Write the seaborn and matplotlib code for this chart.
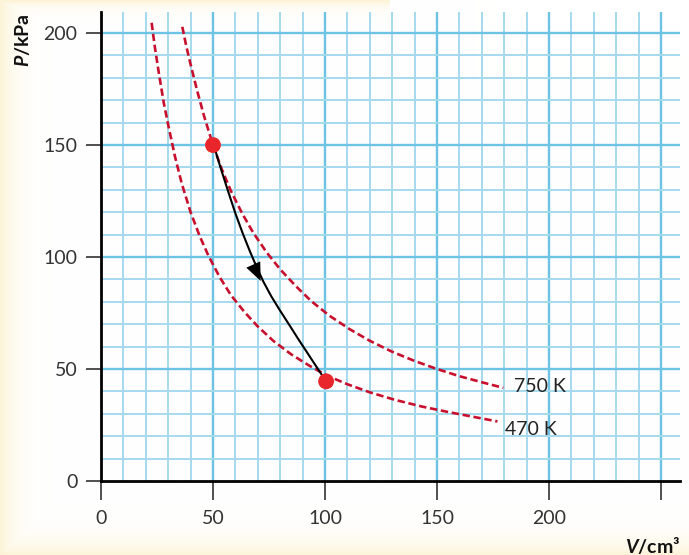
import numpy as np
import matplotlib
matplotlib.use("Agg")
import matplotlib.pyplot as plt
import seaborn as sns

# isotherm 750 K
v_750 = [36.3, 38, 40, 43, 46, 50, 54, 58, 63, 68, 74, 80, 87, 94, 102, 111, 120, 130, 140, 150, 160, 170, 179.6]
p_750 = [202.8, 194.5, 186, 174, 163, 150, 139, 129.5, 119.5, 110.8, 102, 94.5, 87, 80.2, 73.8, 67.8, 62.6, 57.7,
         53.6, 50, 46.8, 44.1, 41.6]

# isotherm 470 K
v_470 = [22.6, 24, 26, 28, 30, 33, 36, 40, 44, 48, 53, 58, 64, 70, 77, 85, 93, 101, 110, 120, 131, 143, 155, 167, 177]
p_470 = [204.6, 194, 181, 169, 159, 145, 133, 120, 109.5, 100.5, 91, 83, 75.5, 69, 62.5, 56.5, 51.5, 47, 43.2,
         39.6, 36.3, 33.3, 30.8, 28.5, 26.6]

# black process curve
v_proc = [50.3, 53.5, 56.7, 60, 63.3, 66.5, 69.5, 72.5, 76, 80, 84, 88, 92, 96, 100.5]
p_proc = [150, 139.5, 129.5, 119.5, 110.5, 102.5, 95.5, 89, 82.5, 76, 69.8, 63.5, 57.4, 51.3, 44.5]

# state points
v_pts = [50, 100.5]
p_pts = [150, 44.5]

labels = ["750 K", "470 K"]
label_pos = [(184.5, 42.4), (180.5, 23.2)]

x_ticks = [0, 50, 100, 150, 200, 250]
x_ticklabels = ["0", "50", "100", "150", "200", ""]
y_ticks = [0, 50, 100, 150, 200]

sns.set_style("white")
plt.rcParams["font.family"] = ["Lato", "DejaVu Sans"]
plt.rcParams["mathtext.fontset"] = "custom"
plt.rcParams["mathtext.bfit"] = "Lato:bold:italic"
plt.rcParams["mathtext.it"] = "Lato:italic"
plt.rcParams["mathtext.rm"] = "Lato"

W, H = 689, 555
fig = plt.figure(figsize=(W / 100, H / 100), dpi=100)

# cream vignette along the edges
bg = fig.add_axes([0, 0, 1, 1])
yy, xx = np.mgrid[0:H, 0:W]
a = np.maximum(np.exp(-xx / 14.0), np.exp(-(H - yy) / 14.0))
a = np.maximum(a, np.exp(-yy / 6.0) * (xx < 390))
img = np.ones((H, W, 3))
cream = np.array([252, 243, 214]) / 255
img = img * (1 - a[..., None]) + cream * a[..., None]
bg.imshow(img, aspect="auto", extent=[0, 1, 0, 1])
bg.axis("off")

ax = fig.add_axes([101 / W, (H - 481) / H, (680 - 101) / W, (481 - 12) / H])
ax.set_facecolor("none")
ax.set_xlim(0, 258.5)
ax.set_ylim(0, 209.4)

# grid
for v in range(10, 259, 10):
    major = v % 50 == 0
    ax.axvline(v, color="#6cc3e4" if major else "#a6d9ed", lw=1.7 if major else 1.4, zorder=0)
for p in range(10, 210, 10):
    major = p % 50 == 0
    ax.axhline(p, color="#6cc3e4" if major else "#a6d9ed", lw=1.7 if major else 1.4, zorder=0)

red = "#c8102e"
sns.lineplot(x=v_750, y=p_750, sort=False, color=red, lw=1.9, ax=ax, zorder=3)
sns.lineplot(x=v_470, y=p_470, sort=False, color=red, lw=1.9, ax=ax, zorder=3)
for ln in ax.lines[-2:]:
    ln.set_dashes((2.8, 1.4))
sns.lineplot(x=v_proc, y=p_proc, sort=False, color="black", lw=1.5, ax=ax, zorder=4)
sns.scatterplot(x=v_pts, y=p_pts, color="#e8262b", s=130, edgecolor="none", ax=ax, zorder=5)

ax.annotate("", xy=(71.3, 89.3), xytext=(68.5, 95.5),
            arrowprops=dict(arrowstyle="-|>,head_length=1.3,head_width=0.55",
                            color="black", lw=0, shrinkA=0, shrinkB=0), zorder=6)

for lab, (lx, ly) in zip(labels, label_pos):
    ax.text(lx, ly, lab, fontsize=14, color="#222222", va="center", ha="left")

ax.set_xticks(x_ticks)
ax.set_xticklabels(x_ticklabels)
ax.set_yticks(y_ticks)
ax.tick_params(axis="both", direction="out", length=11, width=1.2, color="#333333",
               labelsize=14, labelcolor="#333333", pad=6, left=True, bottom=True)
ax.tick_params(axis="x", length=14, pad=7)
for s in ["top", "right"]:
    ax.spines[s].set_visible(False)
for s in ["left", "bottom"]:
    ax.spines[s].set_color("black")
    ax.spines[s].set_linewidth(2)
    ax.spines[s].set_zorder(7)

fig.text(22 / W, 1 - 40 / H, r"$\mathbfit{P}$/kPa", rotation=90, fontsize=14, fontweight="bold",
         ha="center", va="center", color="#111111")
fig.text(680 / W, 1 - 545 / H, r"$\mathbfit{V}$/cm³", fontsize=14, fontweight="bold",
         ha="right", va="center", color="#111111")

fig.savefig("out.png", dpi=100)
